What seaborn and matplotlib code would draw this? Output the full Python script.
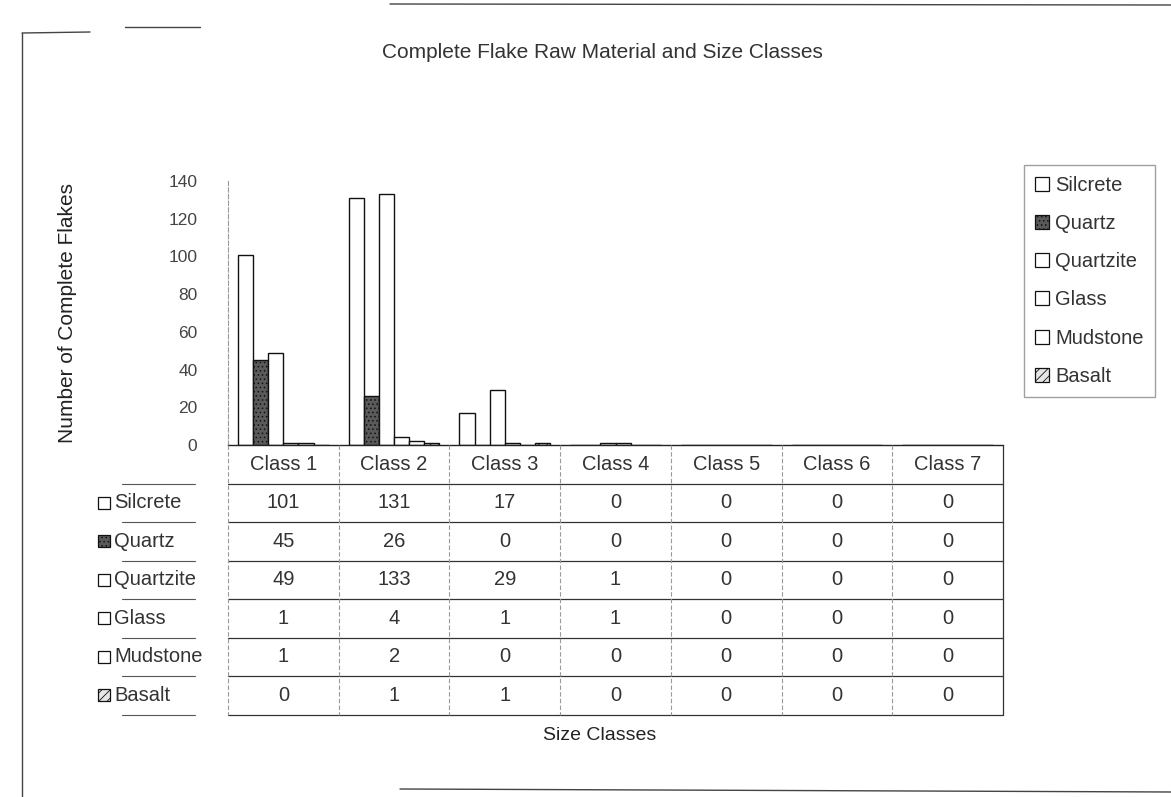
import matplotlib
matplotlib.use("Agg")
import matplotlib.pyplot as plt
from matplotlib.patches import Patch, Rectangle
import seaborn as sns
import pandas as pd

# Complete flake counts by raw material and size class
size_classes = ["Class 1", "Class 2", "Class 3", "Class 4", "Class 5", "Class 6", "Class 7"]
materials = ["Silcrete", "Quartz", "Quartzite", "Glass", "Mudstone", "Basalt"]
silcrete = [101, 131, 17, 0, 0, 0, 0]
quartz = [45, 26, 0, 0, 0, 0, 0]
quartzite = [49, 133, 29, 1, 0, 0, 0]
glass = [1, 4, 1, 1, 0, 0, 0]
mudstone = [1, 2, 0, 0, 0, 0, 0]
basalt = [0, 1, 1, 0, 0, 0, 0]
y_ticks = [0, 20, 40, 60, 80, 100, 120, 140]

counts = {"Silcrete": silcrete, "Quartz": quartz, "Quartzite": quartzite,
          "Glass": glass, "Mudstone": mudstone, "Basalt": basalt}
df = pd.DataFrame([
    {"Size Class": c, "Material": m, "Count": counts[m][i]}
    for m in materials for i, c in enumerate(size_classes)
])

# fill / hatch style per material
faces = {"Silcrete": "white", "Quartz": "#5a5a5a", "Quartzite": "white",
         "Glass": "white", "Mudstone": "white", "Basalt": "#e6e6e6"}
hatches = {"Silcrete": "", "Quartz": "....", "Quartzite": "", "Glass": "",
           "Mudstone": "", "Basalt": "////"}

sns.set_theme(style="white")
plt.rcParams["font.family"] = ["Liberation Sans", "DejaVu Sans"]
plt.rcParams["hatch.linewidth"] = 0.6
plt.rcParams["hatch.color"] = "#222222"

W, H = 1171, 797
fig = plt.figure(figsize=(W / 100, H / 100), dpi=100)
fig.patch.set_facecolor("white")

def fx(px):
    return px / W

def fy(py):
    return 1 - py / H

TXT = 14.5
x_left, x_right = 228, 1003
base, top = 445, 181
row_h = 38.5
table_bottom = base + 7 * row_h

ax = fig.add_axes([fx(x_left), fy(base), fx(x_right - x_left), (base - top) / H])
sns.barplot(data=df, x="Size Class", y="Count", hue="Material", order=size_classes,
            hue_order=materials, palette=faces, edgecolor="#111111", linewidth=1.0,
            width=0.82, legend=False, ax=ax)
for cont, m in zip(ax.containers, materials):
    for bar in cont:
        bar.set_hatch(hatches[m])

ax.set_xlim(-0.5, len(size_classes) - 0.5)
ax.set_ylim(0, 140)
ax.set_yticks(y_ticks)
ax.set_yticklabels([str(t) for t in y_ticks], fontsize=12.5, color="#444444")
ax.tick_params(axis="y", length=0, pad=22)
ax.set_xticks([])
ax.set_xlabel("")
ax.set_ylabel("Number of Complete Flakes", fontsize=15, color="#222222", labelpad=66)
for s in ["top", "right"]:
    ax.spines[s].set_visible(False)
ax.spines["left"].set_color("#9a9a9a")
ax.spines["left"].set_linestyle((0, (4, 2)))
ax.spines["left"].set_linewidth(0.8)
ax.spines["bottom"].set_color("#222222")
ax.spines["bottom"].set_linewidth(1.0)
ax.patch.set_alpha(0)

# data table under the plot, columns aligned with the size classes
tax = fig.add_axes([fx(x_left), fy(table_bottom), fx(x_right - x_left), (table_bottom - base) / H])
tax.set_xlim(-0.5, len(size_classes) - 0.5)
tax.set_ylim(len(materials) + 1, 0)
tax.axis("off")
n_cols = len(size_classes)
for j, c in enumerate(size_classes):
    tax.text(j, 0.5, c, ha="center", va="center", fontsize=TXT, color="#333333")
for i, m in enumerate(materials):
    for j in range(n_cols):
        tax.text(j, i + 1.5, str(counts[m][j]), ha="center", va="center",
                 fontsize=TXT, color="#333333")
# horizontal row rules
for r in range(1, len(materials) + 2):
    tax.plot([-0.5, n_cols - 0.5], [r, r], color="#333333", lw=0.9, clip_on=False)
# vertical column rules
for j in range(n_cols):
    tax.plot([j - 0.5, j - 0.5], [0, len(materials) + 1], color="#9a9a9a", lw=0.8,
             ls=(0, (4, 2)), clip_on=False)
tax.plot([n_cols - 0.5] * 2, [0, len(materials) + 1], color="#333333", lw=0.9, clip_on=False)

# row headers with legend keys
yt = tax.get_yaxis_transform()
span = x_right - x_left
key_x = (98 - x_left) / span
lab_x = (114 - x_left) / span
rule_x0 = (122 - x_left) / span
rule_x1 = (195 - x_left) / span
for i, m in enumerate(materials):
    key = Rectangle((key_x, i + 1.5 - 0.16), 12 / span, 0.32, transform=yt,
                    facecolor=faces[m], edgecolor="#111111", lw=0.9,
                    hatch=hatches[m], clip_on=False)
    tax.add_patch(key)
    tax.text(lab_x, i + 1.5, m, transform=yt, ha="left", va="center",
             fontsize=TXT, color="#333333")
for r in range(1, len(materials) + 2):
    tax.plot([rule_x0, rule_x1], [r, r], transform=yt, color="#555555", lw=0.8,
             clip_on=False)

# legend on the right
handles = [Patch(facecolor=faces[m], edgecolor="#111111", hatch=hatches[m], lw=0.9, label=m)
           for m in materials]
fig.legend(handles=handles, loc="upper left", bbox_to_anchor=(fx(1024), fy(165)),
           frameon=True, fancybox=False, edgecolor="#888888", fontsize=TXT,
           handlelength=0.7, handleheight=0.7, handletextpad=0.3,
           labelspacing=0.95, borderpad=0.55, borderaxespad=0, labelcolor="#333333")

fig.text(fx(602), fy(52), "Complete Flake Raw Material and Size Classes",
         ha="center", va="center", fontsize=15, color="#333333")
fig.text(fx(600), fy(736), "Size Classes", ha="center", va="center",
         fontsize=14, color="#222222")

# page border segments
bg = fig.add_axes([0, 0, 1, 1], zorder=-1)
bg.set_xlim(0, W)
bg.set_ylim(H, 0)
bg.axis("off")
border = [([22, 22], [33, 797]), ([22, 90], [33, 32]), ([125, 200], [27, 27]),
          ([390, 1171], [4, 5]), ([400, 1171], [789, 792])]
for xs, ys in border:
    bg.plot(xs, ys, color="#444444", lw=1.0)

fig.savefig("out.png", dpi=100)
